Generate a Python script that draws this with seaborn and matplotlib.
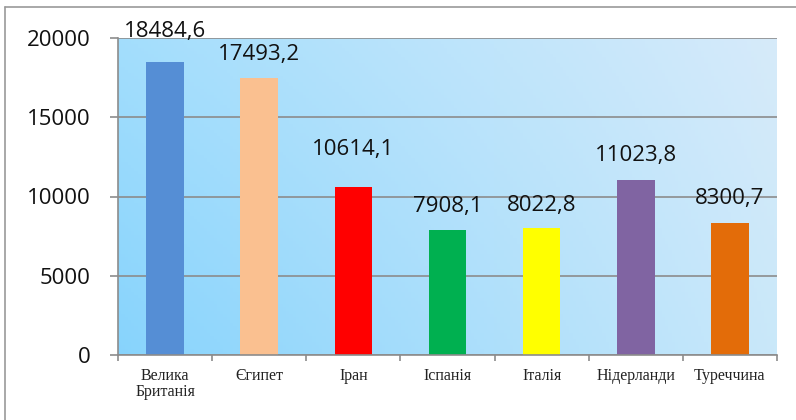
"""Bar chart: values by country with Excel-style gradient plot area."""

import matplotlib

matplotlib.use("Agg")
import matplotlib.pyplot as plt
import numpy as np
import pandas as pd
import seaborn as sns
from matplotlib.lines import Line2D
from matplotlib.ticker import FixedLocator

countries = ["Велика\nБританія", "Єгипет", "Іран", "Іспанія", "Італія", "Нідерланди", "Туреччина"]
values = [18484.6, 17493.2, 10614.1, 7908.1, 8022.8, 11023.8, 8300.7]
value_labels = ["18484,6", "17493,2", "10614,1", "7908,1", "8022,8", "11023,8", "8300,7"]
bar_colors = ["#558ED5", "#FAC090", "#FF0000", "#00B050", "#FFFF00", "#8064A2", "#E36C09"]
y_ticks = [0, 5000, 10000, 15000, 20000]

# label baseline offsets above bar tops, in pixels (labels were placed by hand in the original)
label_offsets = [25, 18, 32, 18, 17, 19, 19]

sns.set_style("white")
plt.rcParams["font.family"] = ["Open Sans", "DejaVu Sans"]

df = pd.DataFrame({"country": countries, "value": values})

W, H = 796, 420
fig = plt.figure(figsize=(W / 100, H / 100), dpi=100)
ax = fig.add_axes([118 / W, 1 - 355 / H, (777 - 118) / W, (355 - 38) / H])

# gradient background of the plot area
gx = np.linspace(0, 1, 200)
gy = np.linspace(0, 1, 100)
X, Y = np.meshgrid(gx, gy)
bl = np.array([0.53, 0.83, 0.99])
tl = np.array([0.64, 0.87, 0.99])
br = np.array([0.79, 0.91, 0.98])
tr = np.array([0.84, 0.92, 0.98])
grad = (
    (1 - X)[..., None] * (1 - Y)[..., None] * bl
    + (1 - X)[..., None] * Y[..., None] * tl
    + X[..., None] * (1 - Y)[..., None] * br
    + X[..., None] * Y[..., None] * tr
)
ax.imshow(grad, extent=[-0.5, 6.5, 0, 20000], origin="lower", aspect="auto", zorder=0)

sns.barplot(
    data=df, x="country", y="value", hue="country", palette=bar_colors,
    width=0.4, saturation=1, legend=False, ax=ax, zorder=3,
    edgecolor="none", linewidth=0,
)

ax.set_xlim(-0.5, 6.5)
ax.set_ylim(0, 20000)
ax.set_yticks(y_ticks)
ax.set_yticklabels([str(t) for t in y_ticks], fontsize=16, color="#111111")
ax.yaxis.grid(True, color="#8c8c8c", linewidth=1.2, zorder=1)
ax.set_axisbelow(False)
for line in ax.get_ygridlines():
    line.set_zorder(1)

ax.set_xlabel("")
ax.set_ylabel("")
ax.xaxis.set_minor_locator(FixedLocator(np.arange(-0.5, 7, 1)))
ax.tick_params(axis="x", which="major", length=0, pad=9)
ax.tick_params(axis="x", which="minor", length=4, width=1.2, color="#8c8c8c", direction="out", bottom=True)
ax.tick_params(axis="y", length=6, width=1.2, color="#8c8c8c", direction="out", left=True, pad=14)
for lbl in ax.get_xticklabels():
    lbl.set_family(["Liberation Serif", "DejaVu Serif"])
    lbl.set_fontsize(11.5)
    lbl.set_color("#222222")
    lbl.set_linespacing(1.05)

for side in ["top", "right"]:
    ax.spines[side].set_visible(False)
for side in ["left", "bottom"]:
    ax.spines[side].set_color("#8c8c8c")
    ax.spines[side].set_linewidth(1.2)
    ax.spines[side].set_zorder(4)

for i, (v, txt, off) in enumerate(zip(values, value_labels, label_offsets)):
    ax.annotate(
        txt, xy=(i, v), xytext=(0, off * 0.72), textcoords="offset points",
        ha="center", va="baseline", fontsize=16, color="#111111", zorder=5,
        annotation_clip=False,
    )

# outer chart border (only left and top edges fall inside the picture)
fig.add_artist(Line2D([4.5 / W, 4.5 / W], [0, 1 - 7 / H], color="#9a9a9a", linewidth=1.2))
fig.add_artist(Line2D([4.5 / W, 1], [1 - 7 / H, 1 - 7 / H], color="#9a9a9a", linewidth=1.2))

fig.savefig("out.png", dpi=100)
plt.close(fig)
